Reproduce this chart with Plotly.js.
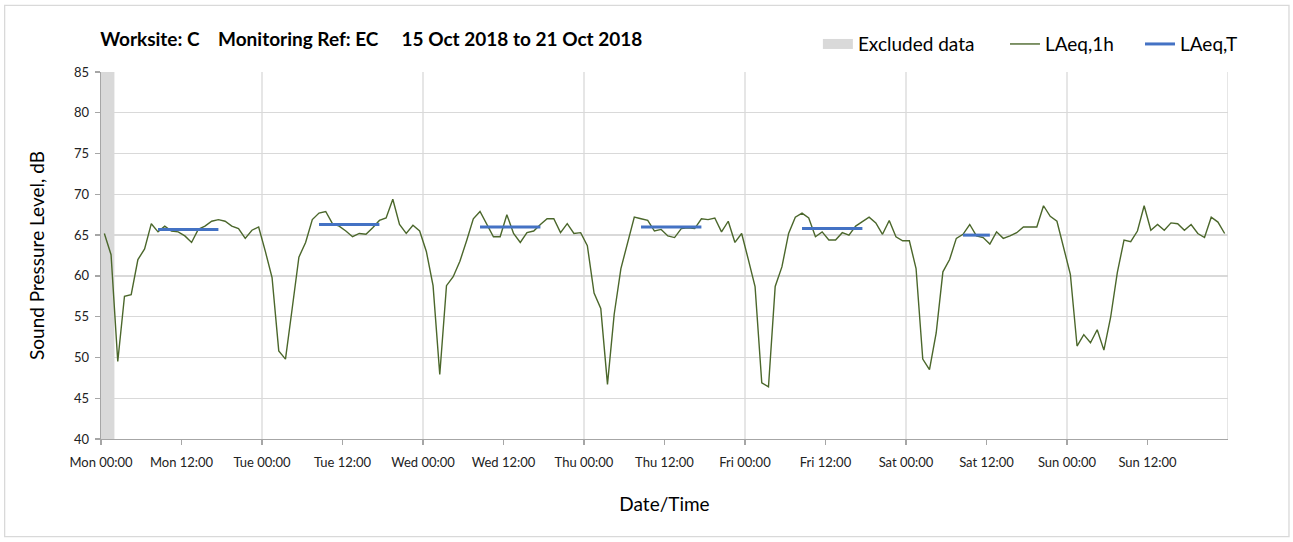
<!DOCTYPE html>
<html>
<head>
<meta charset="utf-8">
<script src="https://cdn.plot.ly/plotly-3.0.1.min.js"></script>
<style>
  html, body { margin: 0; padding: 0; background: #ffffff; }
  #chart { width: 1293px; height: 542px; }
</style>
</head>
<body>
<div id="chart"></div>
<script>
// ---- Data (hourly LAeq,1h, each value plotted at the middle of its hour) ----
const monLevels = [65.2, 62.6, 49.5, 57.5, 57.7, 62.0, 63.3, 66.4, 65.4, 66.1, 65.5, 65.4, 64.9, 64.1, 65.7, 66.1, 66.7, 66.9, 66.7, 66.1, 65.8, 64.6, 65.6, 66.0];
const tueLevels = [63.0, 59.8, 50.8, 49.8, 56.0, 62.3, 64.1, 66.9, 67.7, 67.9, 66.4, 66.1, 65.5, 64.8, 65.2, 65.1, 65.9, 66.8, 67.1, 69.4, 66.3, 65.2, 66.2, 65.5];
const wedLevels = [63.0, 58.8, 47.9, 58.8, 59.9, 61.8, 64.3, 67.0, 67.9, 66.3, 64.8, 64.8, 67.5, 65.2, 64.1, 65.3, 65.5, 66.3, 67.0, 67.0, 65.3, 66.4, 65.2, 65.3];
const thuLevels = [63.7, 57.9, 56.0, 46.7, 55.3, 60.9, 63.9, 67.2, 67.0, 66.8, 65.5, 65.7, 64.9, 64.7, 65.8, 65.9, 65.8, 67.0, 66.9, 67.1, 65.4, 66.7, 64.1, 65.2];
const friLevels = [62.0, 58.7, 46.9, 46.4, 58.7, 61.1, 65.2, 67.2, 67.7, 67.1, 64.8, 65.4, 64.4, 64.4, 65.3, 65.0, 66.1, 66.6, 67.2, 66.5, 65.1, 66.8, 64.8, 64.3];
const satLevels = [64.3, 60.9, 49.8, 48.5, 53.0, 60.5, 62.0, 64.6, 65.1, 66.3, 64.9, 64.7, 63.9, 65.4, 64.6, 64.9, 65.3, 66.0, 66.0, 66.0, 68.6, 67.3, 66.7, 63.5];
const sunLevels = [60.2, 51.4, 52.8, 51.8, 53.4, 50.9, 54.9, 60.4, 64.4, 64.2, 65.5, 68.6, 65.6, 66.3, 65.6, 66.5, 66.4, 65.6, 66.3, 65.2, 64.7, 67.2, 66.6, 65.2];

// LAeq,T periods (hours from Mon 00:00)
const periodStart = [8.5, 32.5, 56.5, 80.5, 104.5, 128.5];
const periodEnd   = [17.5, 41.5, 65.5, 89.5, 113.5, 132.5];
const periodLevel = [65.7, 66.3, 66.0, 66.0, 65.8, 65.0];

// Excluded data (hours from Mon 00:00)
const excludedStart = [0];
const excludedEnd   = [2];

// Axis ticks
const tickHours  = [0, 12, 24, 36, 48, 60, 72, 84, 96, 108, 120, 132, 144, 156];
const tickLabels = ["Mon 00:00", "Mon 12:00", "Tue 00:00", "Tue 12:00", "Wed 00:00", "Wed 12:00",
                    "Thu 00:00", "Thu 12:00", "Fri 00:00", "Fri 12:00", "Sat 00:00", "Sat 12:00",
                    "Sun 00:00", "Sun 12:00"];
const dayBoundaries = [24, 48, 72, 96, 120, 144, 168];

// ---- Build traces ----
const allLevels = [].concat(monLevels, tueLevels, wedLevels, thuLevels, friLevels, satLevels, sunLevels);
const hourX = allLevels.map((_, i) => i + 0.5);

const tX = [], tY = [];
periodStart.forEach((s, i) => {
  tX.push(s, periodEnd[i], null);
  tY.push(periodLevel[i], periodLevel[i], null);
});

const FONT = "Lato, 'Open Sans', 'DejaVu Sans', sans-serif";

const traces = [
  {
    type: "scatter", mode: "lines", name: "Excluded data",
    x: [null], y: [null],
    line: { color: "#d9d9d9", width: 12 },
    legend: "legend", hoverinfo: "skip"
  },
  {
    type: "scatter", mode: "lines", name: "LAeq,1h",
    x: hourX, y: allLevels,
    line: { color: "#4b672b", width: 1.4 },
    legend: "legend2"
  },
  {
    type: "scatter", mode: "lines", name: "LAeq,T",
    x: tX, y: tY,
    line: { color: "#4472c4", width: 3 },
    connectgaps: false,
    legend: "legend3"
  }
];

const shapes = [];
excludedStart.forEach((s, i) => {
  shapes.push({
    type: "rect", xref: "x", yref: "y", x0: s, x1: excludedEnd[i], y0: 40, y1: 85,
    fillcolor: "#d9d9d9", line: { width: 0 }, layer: "below"
  });
});
dayBoundaries.forEach(d => {
  shapes.push({
    type: "line", xref: "x", yref: "y", x0: d, x1: d, y0: 40, y1: 85,
    line: { color: "#d9d9d9", width: 1.3 }, layer: "below"
  });
});
// outer chart frame
shapes.push({
  type: "rect", xref: "paper", yref: "paper",
  x0: -0.0855, x1: 1.0541, y0: -0.266, y1: 1.1815,
  line: { color: "#d9d9d9", width: 1.3 }, fillcolor: "rgba(0,0,0,0)"
});

const legendCommon = {
  orientation: "h", yanchor: "middle", y: 1.076, xanchor: "left",
  font: { family: FONT, size: 19, color: "#000000" },
  bgcolor: "rgba(0,0,0,0)", borderwidth: 0
};

const layout = {
  width: 1293, height: 542,
  margin: { l: 101, r: 65, t: 72, b: 103, pad: 0 },
  paper_bgcolor: "#ffffff", plot_bgcolor: "#ffffff",
  font: { family: FONT, color: "#000000" },
  showlegend: true,
  title: {
    text: "<b>Worksite: C\u00a0\u00a0\u00a0 Monitoring Ref: EC\u00a0\u00a0\u00a0\u00a0 15 Oct 2018 to 21 Oct 2018</b>",
    xref: "container", yref: "container", x: 0.0775, xanchor: "left",
    y: 0.927, yanchor: "middle",
    font: { family: FONT, size: 19, color: "#000000" }
  },
  xaxis: {
    range: [0, 168], type: "linear",
    tickmode: "array", tickvals: tickHours, ticktext: tickLabels,
    showgrid: false, zeroline: false,
    showline: true, linecolor: "#a6a6a6", linewidth: 1.3,
    ticks: "outside", ticklen: 5, tickcolor: "#a6a6a6", tickwidth: 1.3,
    ticklabelstandoff: 6,
    tickfont: { family: FONT, size: 13, color: "#222222" },
    title: { text: "Date/Time", standoff: 28, font: { family: FONT, size: 19, color: "#000000" } },
    fixedrange: true
  },
  yaxis: {
    range: [40, 85], dtick: 5, tick0: 40,
    showgrid: true, gridcolor: "#d9d9d9", gridwidth: 1.3, zeroline: false,
    showline: true, linecolor: "#a6a6a6", linewidth: 1.3,
    ticks: "outside", ticklen: 5, tickcolor: "#a6a6a6", tickwidth: 1.3,
    ticklabelstandoff: 3,
    tickfont: { family: FONT, size: 13, color: "#222222" },
    title: { text: "Sound Pressure Level, dB", standoff: 24, font: { family: FONT, size: 19, color: "#000000" } },
    fixedrange: true
  },
  legend:  Object.assign({}, legendCommon, { x: 0.6361 }),
  legend2: Object.assign({}, legendCommon, { x: 0.8021 }),
  legend3: Object.assign({}, legendCommon, { x: 0.9219 }),
  shapes: shapes
};

Plotly.newPlot("chart", traces, layout, { displayModeBar: false, staticPlot: true });
</script>
</body>
</html>
